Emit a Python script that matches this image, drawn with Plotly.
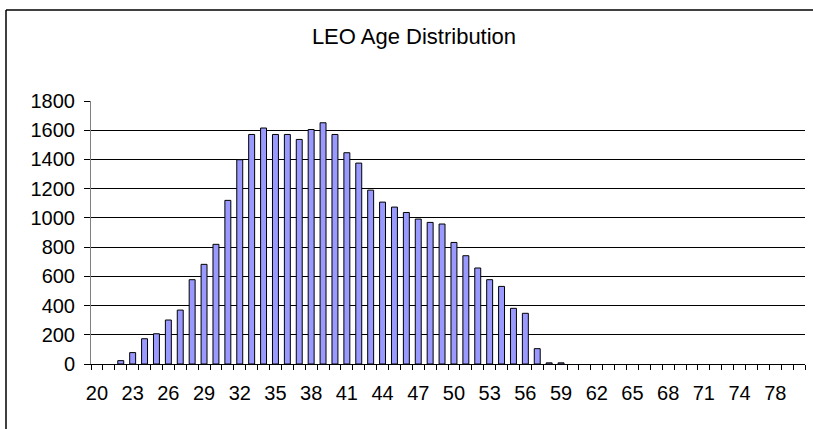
import plotly.graph_objects as go

ages = list(range(20, 77)) + [78, 79, 80]
counts = [0, 0, 23, 78, 173, 207, 301, 369, 577, 682,
          819, 1120, 1398, 1571, 1615, 1571, 1571, 1537, 1605, 1651,
          1571, 1446, 1375, 1190, 1108, 1074, 1037, 992, 969, 958,
          832, 741, 657, 577, 531, 381, 347, 105, 8, 8,
          0, 0, 0, 0, 0, 0, 0, 0, 0, 0,
          0, 0, 0, 0, 0, 0, 0, 0, 0, 0]
cats = [str(a) for a in ages]
tick_text = [c if i % 3 == 0 else "" for i, c in enumerate(cats)]
title_text = "LEO Age Distribution"

W, H = 813, 429
ml, mr, mt, mb = 91, 8, 101, 65
pw, ph = W - ml - mr, H - mt - mb

def px_x(p):
    return (p - ml) / pw

def px_y(p):
    return (H - mb - p) / ph

# Excel draws nothing for empty (zero) cells
plot_y = [v if v > 0 else None for v in counts]

fig = go.Figure(go.Bar(
    x=cats, y=plot_y,
    marker=dict(color="#9999FF", line=dict(color="#000000", width=1)),
))

fig.update_layout(
    width=W, height=H,
    margin=dict(l=ml, r=mr, t=mt, b=mb, autoexpand=False),
    paper_bgcolor="white", plot_bgcolor="white",
    bargap=0.5,
    showlegend=False,
    font=dict(family="Liberation Sans, Arial, sans-serif", color="#000000", size=20),
    title=dict(text=title_text, x=px_x(414), xref="paper", xanchor="center",
               y=1 - 36 / H, yanchor="middle", yref="container", automargin=False,
               font=dict(size=22, color="#000000")),
    shapes=[
        dict(type="line", xref="paper", yref="paper",
             x0=px_x(6), x1=px_x(W), y0=px_y(10), y1=px_y(10),
             line=dict(color="#000000", width=1.5), layer="below"),
        dict(type="line", xref="paper", yref="paper",
             x0=px_x(6), x1=px_x(6), y0=px_y(10), y1=px_y(H),
             line=dict(color="#000000", width=1.5), layer="below"),
    ],
)
fig.update_xaxes(
    type="category", automargin=False,
    tickmode="array", tickvals=cats, ticktext=tick_text,
    tickson="boundaries", ticks="outside", ticklen=5, tickcolor="#000000",
    ticklabelstandoff=11,
    showline=True, linecolor="#000000", linewidth=1,
    showgrid=False, tickangle=0,
    range=[-0.5, len(cats) - 0.5],
)
fig.update_yaxes(
    range=[0, 1800], dtick=200, tick0=0, automargin=False,
    ticks="outside", ticklen=6, tickcolor="#000000", ticklabelstandoff=5,
    showline=True, linecolor="#808080", linewidth=1,
    showgrid=True, gridcolor="#000000", gridwidth=1,
    zeroline=False,
)

fig.write_html("out.html", config={"displayModeBar": False},
               post_script="document.body.style.margin='0';document.documentElement.style.overflow='hidden';")
